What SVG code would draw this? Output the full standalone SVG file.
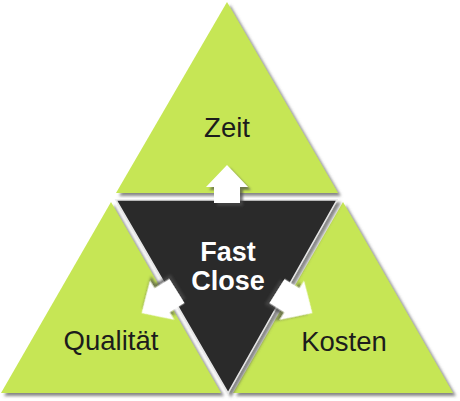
<svg xmlns="http://www.w3.org/2000/svg" xmlns:xlink="http://www.w3.org/1999/xlink" width="460" height="401" viewBox="0 0 460 401">
  <style>
    .tri { fill: #c6e654; filter: url(#shadow); }
    .dark { fill: #2b2b2b; stroke: #e6e6e6; stroke-width: 1.5; filter: url(#shadow); }
    .lbl { font-family: "Liberation Sans", Arial, sans-serif; font-size: 27.5px; fill: #1c1c1c; text-anchor: middle; }
    .core { font-family: "Liberation Sans", Arial, sans-serif; font-size: 27px; font-weight: bold; fill: #ffffff; text-anchor: middle; }
    .arrow { fill: #ffffff; filter: url(#ashadow); }
  </style>
  <defs>
    <filter id="shadow" x="-10%" y="-10%" width="130%" height="130%">
      <feDropShadow dx="3" dy="3" stdDeviation="1.5" flood-color="#555555" flood-opacity="0.7"/>
    </filter>
    <filter id="ashadow" x="-30%" y="-30%" width="160%" height="160%">
      <feDropShadow dx="3" dy="3" stdDeviation="1.2" flood-color="#4a4a4a" flood-opacity="0.7"/>
    </filter>
    <path id="arr" d="M0,-38 L21,-16 L13,-16 L13,0 L-13,0 L-13,-16 L-21,-16 Z"/>
  </defs>
  <rect width="460" height="401" fill="#ffffff"/>

  <g id="zeit">
    <polygon class="tri" points="227,2 338,193 116,193"/>
    <text class="lbl" x="227" y="137">Zeit</text>
  </g>
  <g id="qualitaet">
    <polygon class="tri" points="111,202 221,393 1,393"/>
    <text class="lbl" x="111" y="350">Qualität</text>
  </g>
  <g id="kosten">
    <polygon class="tri" points="343,202 453,393 233,393"/>
    <text class="lbl" x="344" y="351">Kosten</text>
  </g>
  <g id="fastclose">
    <polygon class="dark" points="116,200 337,200 228,393"/>
    <text class="core" x="228" y="261">Fast</text>
    <text class="core" x="228" y="290">Close</text>
  </g>

  <g id="connectors">
    <use class="arrow" xlink:href="#arr" transform="translate(227,203)"/>
    <use class="arrow" xlink:href="#arr" transform="translate(177,291) rotate(-122) scale(1.1)"/>
    <use class="arrow" xlink:href="#arr" transform="translate(277,291) rotate(122) scale(1.1)"/>
  </g>
</svg>
